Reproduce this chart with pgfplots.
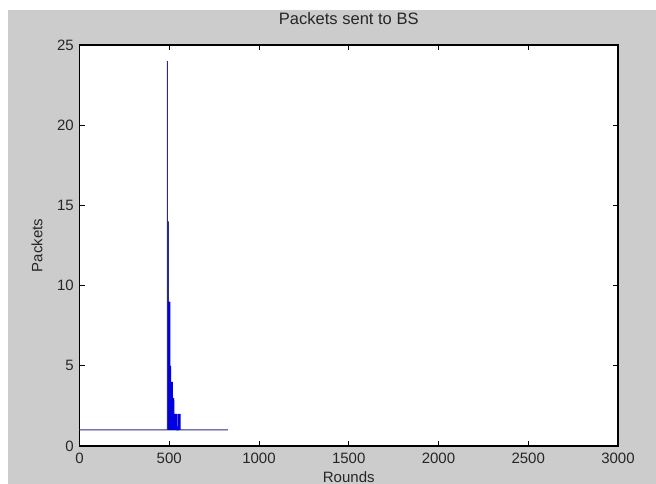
\documentclass[border=0pt]{standalone}
\usepackage{pgfplots}
\pgfplotsset{compat=1.18}
\usepackage{fontspec}
\setmainfont{Liberation Sans}
\definecolor{figgray}{RGB}{204,204,204}
\definecolor{navyline}{RGB}{45,45,120}
\definecolor{mblue}{RGB}{0,0,225}
\begin{document}
\begin{tikzpicture}
\path[use as bounding box, fill=white] (-59.625pt,-28.5pt) rectangle (432.375pt,334.5pt);
\fill[figgray] (-53.625pt,-28.5pt) rectangle (432.375pt,327pt);
\begin{axis}[
  at={(0,0)}, anchor=south west,
  scale only axis,
  width=403.875pt, height=300.75pt,
  xmin=0, xmax=3000, ymin=0, ymax=25,
  xtick={0,500,1000,1500,2000,2500,3000},
  ytick={0,5,10,15,20,25},
  scaled x ticks=false, scaled y ticks=false,
  /pgf/number format/1000 sep={},
  /pgf/number format/assume math mode=true,
  tick align=inside, tickpos=both,
  major tick length=4pt,
  axis line style={black, line width=0.8pt},
  every tick/.style={black, line width=0.6pt},
  axis background/.style={fill=white},
  tick label style={font=\fontsize{11.25}{13}\selectfont, text=black!85},
  xticklabel style={yshift=-1.6pt},
  yticklabel style={xshift=-0.8pt},
  label style={font=\fontsize{11.25}{13}\selectfont, text=black!85},
  title style={font=\fontsize{12.4}{14}\selectfont, text=black!85, at={(0.5,1)}, anchor=base, yshift=9.5pt},
  title={Packets sent to BS},
  xlabel={Rounds},
  xlabel style={at={(axis description cs:0.5,0)}, anchor=base, yshift=-27.5pt},
  ylabel={Packets},
  ylabel style={at={(axis description cs:-0.0789,0.5)}, anchor=center},
]
\addplot[navyline, line width=0.75pt] coordinates {
(0,1) (489,1) (489,24) (490,1) (491,14) (492,1) (493,14) (494,1) (495,14) (496,1) (827,1)
};
\addplot[mblue, line width=0.75pt] coordinates {
(496,1) (497,9) (498,1) (499,9) (500,1) (501,9) (502,1) (503,9) (504,1)
(505,5) (506,1) (507,5) (508,1)
(509,4) (510,1) (511,4) (512,1) (513,4) (514,1) (515,4) (516,1) (517,4) (518,1)
(519,3) (520,1) (521,3) (522,1) (523,3) (524,1) (525,3) (526,1)
(527,2) (528,1) (529,2) (530,1) (531,2) (532,1) (533,2) (534,1) (535,2) (536,1)
(537,2) (538,1) (539,2) (540,1) (541,2) (542,1)
(549,1) (550,2) (551,1) (552,2) (553,1) (554,2) (555,1) (556,2) (557,1) (558,2) (559,1) (560,2) (561,1)
};
\end{axis}
\end{tikzpicture}
\end{document}
